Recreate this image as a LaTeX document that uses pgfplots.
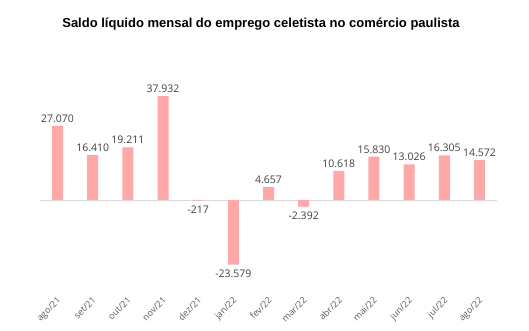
\documentclass[border=0pt]{standalone}
\usepackage{pgfplots}
\pgfplotsset{compat=1.18}
\usepackage{fontspec}
\setmainfont{Open Sans}
\newfontfamily\titlefont{Liberation Sans}
\definecolor{barpink}{RGB}{255,168,168}
\definecolor{lbl}{RGB}{64,64,64}
\definecolor{tlbl}{RGB}{89,89,89}
\definecolor{zline}{RGB}{217,217,217}
\begin{document}
\begin{tikzpicture}
\path[use as bounding box] (0,0) rectangle (529pt,331pt);
\node[font=\titlefont\bfseries\fontsize{13}{15}\selectfont, anchor=center] at (261pt,307pt) {Saldo líquido mensal do emprego celetista no comércio paulista};
\begin{axis}[
  at={(40pt,59.8pt)}, anchor=south west,
  scale only axis, width=457pt, height=186.3pt,
  xmin=-0.5, xmax=12.5, ymin=-26000, ymax=42000,
  axis line style={draw=none},
  ytick=\empty,
  xtick={0,...,12},
  xticklabels={ago/21,set/21,out/21,nov/21,dez/21,jan/22,fev/22,mar/22,abr/22,mai/22,jun/22,jul/22,ago/22},
  xtick style={draw=none},
  xticklabel style={xshift=-1pt, yshift=-20pt, rotate=45, anchor=north east, font=\fontsize{9}{11}\selectfont, text=tlbl, inner sep=0.5pt},
  ybar, bar width=11pt, bar shift=0pt,
  point meta=explicit symbolic,
  nodes near coords,
  every node near coord/.append style={font=\fontsize{10.5}{12}\selectfont, text=lbl},
  clip=false,
]
\draw[zline, line width=0.8pt] (axis cs:-0.5,0) -- (axis cs:12.5,0);
\addplot[fill=barpink, draw=none, nodes near coords style={anchor=south, inner sep=3pt}] coordinates {
(0,27070) [27.070]
(1,16410) [16.410]
(2,19211) [19.211]
(3,37932) [37.932]
(6,4657) [4.657]
(8,10618) [10.618]
(9,15830) [15.830]
(10,13026) [13.026]
(11,16305) [16.305]
(12,14572) [14.572]
};
\addplot[fill=barpink, draw=none, nodes near coords style={anchor=north, inner sep=5pt}] coordinates {
(4,-217) [-217]
(5,-23579) [-23.579]
(7,-2392) [-2.392]
};
\end{axis}
\end{tikzpicture}
\end{document}
